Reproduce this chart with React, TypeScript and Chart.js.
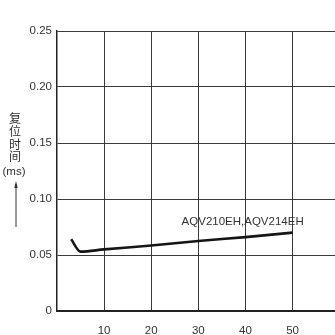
import React, { useEffect, useRef } from "react";
import { Chart, registerables } from "chart.js";

Chart.register(...registerables);

const xValues = [3, 5, 10, 20, 30, 40, 50];
const yValues = [0.064, 0.053, 0.055, 0.0585, 0.0625, 0.066, 0.07];
const xTicks = [10, 20, 30, 40, 50];
const yTicks = [0, 0.05, 0.1, 0.15, 0.2, 0.25];
const yTickLabels = ["0", "0.05", "0.10", "0.15", "0.20", "0.25"];
const yTitleChars = ["复", "位", "时", "间", "(ms)"];
const seriesLabel = "AQV210EH,AQV214EH";
const labelAt = { x: 39.4, y: 0.0792 };

const FONT = "'Liberation Sans', Arial, sans-serif";

const decorPlugin = {
  id: "decor",
  afterDraw(chart: any) {
    const ctx = chart.ctx;
    const xs = chart.scales.x;
    const ys = chart.scales.y;
    ctx.save();
    // series annotation
    ctx.fillStyle = "#333";
    ctx.font = `11.5px ${FONT}`;
    ctx.textAlign = "center";
    ctx.textBaseline = "middle";
    ctx.fillText(seriesLabel, xs.getPixelForValue(labelAt.x), ys.getPixelForValue(labelAt.y));
    // vertical y title
    const ys0 = [118.5, 131.3, 144, 156.8, 172];
    yTitleChars.forEach((c, i) => {
      if (c === "(ms)") {
        ctx.font = `11.5px ${FONT}`;
        ctx.fillText("(ms)", 14, ys0[i]);
      } else {
        ctx.font = `12px 'Noto Sans CJK SC', sans-serif`;
        ctx.fillText(c, 15, ys0[i]);
      }
    });
    // arrow
    ctx.strokeStyle = "#333";
    ctx.lineWidth = 1;
    ctx.beginPath();
    ctx.moveTo(16, 227);
    ctx.lineTo(16, 184);
    ctx.stroke();
    ctx.fillStyle = "#333";
    ctx.beginPath();
    ctx.moveTo(16, 181);
    ctx.lineTo(14.3, 188);
    ctx.lineTo(17.7, 188);
    ctx.closePath();
    ctx.fill();
    ctx.restore();
  },
};

export default function App() {
  const ref = useRef<HTMLCanvasElement>(null);
  useEffect(() => {
    if (!ref.current) return;
    const chart = new Chart(ref.current, {
      type: "line",
      data: {
        datasets: [
          {
            label: seriesLabel,
            data: xValues.map((x, i) => ({ x, y: yValues[i] })),
            borderColor: "#151515",
            borderWidth: 2.6,
            pointRadius: 0,
            cubicInterpolationMode: "monotone",
            fill: false,
          },
        ],
      },
      options: {
        animation: false,
        responsive: true,
        maintainAspectRatio: false,
        layout: { padding: { top: 31, left: 0, right: 0, bottom: 0 } },
        plugins: { legend: { display: false }, tooltip: { enabled: false } },
        scales: {
          x: {
            type: "linear",
            min: 0,
            max: 59,
            afterBuildTicks: (s: any) => {
              s.ticks = xTicks.map((v) => ({ value: v }));
            },
            afterFit: (s: any) => {
              s.height = 24;
            },
            grid: { color: "#3a3a3a", lineWidth: 1, drawTicks: false },
            border: { color: "#222", width: 2 },
            ticks: {
              color: "#333",
              font: { family: FONT, size: 11.5 },
              padding: 13,
              maxRotation: 0,
              callback: (v: any) => String(v),
            },
          },
          y: {
            type: "linear",
            min: 0,
            max: 0.25,
            afterBuildTicks: (s: any) => {
              s.ticks = yTicks.map((v) => ({ value: v }));
            },
            afterFit: (s: any) => {
              s.width = 57;
            },
            grid: { color: "#3a3a3a", lineWidth: 1, drawTicks: false },
            border: { color: "#222", width: 1.5 },
            ticks: {
              color: "#333",
              font: { family: FONT, size: 11.5 },
              padding: 5,
              callback: (v: any) => {
                const i = yTicks.findIndex((t) => Math.abs(t - v) < 1e-9);
                return i >= 0 ? yTickLabels[i] : "";
              },
            },
          },
        },
      },
      plugins: [decorPlugin],
    });
    return () => chart.destroy();
  }, []);
  return (
    <div style={{ position: "absolute", left: 0, top: 0, width: 335, height: 335, background: "#fff" }}>
      <canvas ref={ref} />
    </div>
  );
}
